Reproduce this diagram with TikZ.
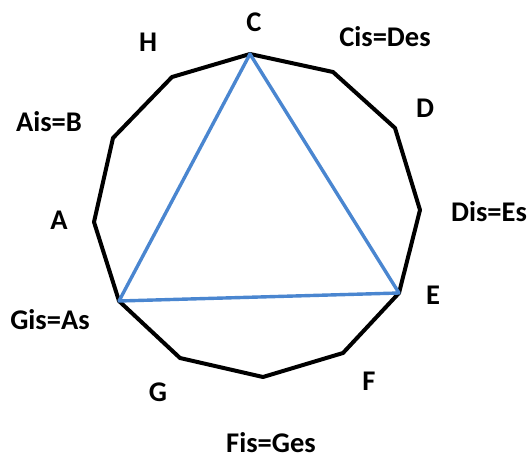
\documentclass[tikz,border=0pt]{standalone}
\usepackage{fontspec}
\setmainfont{Carlito}
\definecolor{triblue}{RGB}{74,134,208}
\begin{document}
\begin{tikzpicture}[x=1pt,y=-1pt,
  lbl/.style={font=\bfseries\fontsize{28.5}{32}\selectfont, inner sep=0pt},
  poly/.style={draw=black, line width=4pt, line join=round},
  tri/.style={draw=triblue, line width=3.4pt, line join=round}]
\useasboundingbox (0,0) rectangle (531,459);
\coordinate (C) at (250,54);
\coordinate (Cis) at (333,72);
\coordinate (D) at (395,128);
\coordinate (Dis) at (420,210);
\coordinate (E) at (399,293);
\coordinate (F) at (343,353);
\coordinate (Fis) at (263,377);
\coordinate (G) at (180,358);
\coordinate (Gis) at (119,301);
\coordinate (A) at (94,222);
\coordinate (Ais) at (113,138);
\coordinate (H) at (172,77);
\draw[poly] (C) -- (Cis) -- (D) -- (Dis) -- (E) -- (F) -- (Fis) -- (G) -- (Gis) -- (A) -- (Ais) -- (H) -- cycle;
\draw[tri] (C) -- (E) -- (Gis) -- cycle;
\node[lbl] (lC) at (254,22) {C};
\node[lbl] (lCis) at (385,37) {Cis=Des};
\node[lbl] (lD) at (425,108) {D};
\node[lbl] (lDis) at (489,212) {Dis=Es};
\node[lbl] (lE) at (433,295) {E};
\node[lbl] (lF) at (369,381) {F};
\node[lbl] (lFis) at (271,443) {Fis=Ges};
\node[lbl] (lG) at (158,392) {G};
\node[lbl] (lGis) at (50,320) {Gis=As};
\node[lbl] (lA) at (59,220) {A};
\node[lbl] (lAis) at (49,122) {Ais=B};
\node[lbl] (lH) at (148,42) {H};
\end{tikzpicture}
\end{document}
